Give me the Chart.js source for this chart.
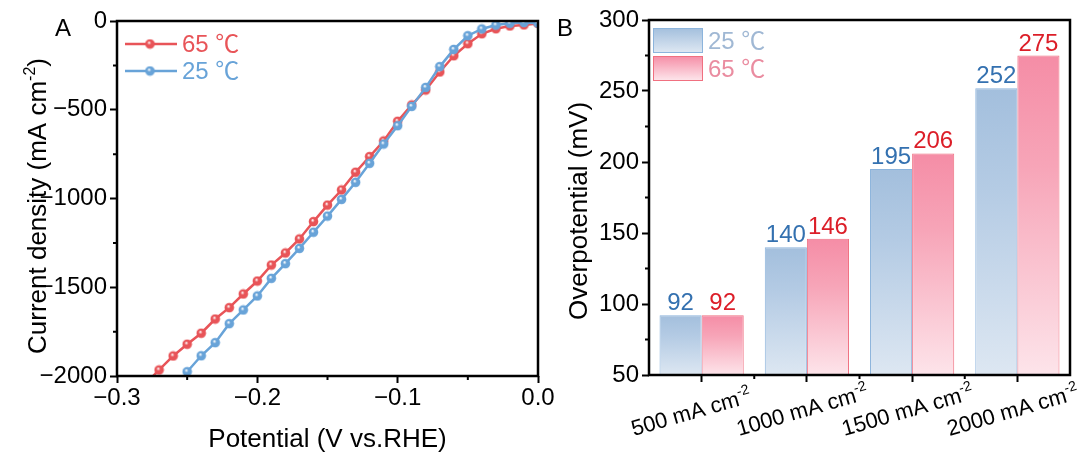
<!DOCTYPE html>
<html>
<head>
<meta charset="utf-8">
<script src="https://cdn.jsdelivr.net/npm/chart.js@4.4.1/dist/chart.umd.min.js"></script>
<style>
  html, body { margin: 0; padding: 0; background: #fff; }
  #page { position: relative; width: 1091px; height: 457px; overflow: hidden; }
  canvas { position: absolute; top: 0; }
  #chartA { left: 0; }
  #chartB { left: 545px; }
</style>
</head>
<body>
<div id="page">
  <canvas id="chartA" width="565" height="457"></canvas>
  <canvas id="chartB" width="546" height="457"></canvas>
</div>
<script>
// panel A: LSV curves (potential in V vs RHE, current density in mA cm-2)
const potential65 = [-0.28, -0.27, -0.26, -0.25, -0.24, -0.23, -0.22, -0.21, -0.20, -0.19,
  -0.18, -0.17, -0.16, -0.15, -0.14, -0.13, -0.12, -0.11, -0.10, -0.09,
  -0.08, -0.07, -0.06, -0.05, -0.04, -0.03, -0.02, -0.01, 0.00]
const current65 = [-2046, -1966, -1887, -1821, -1759, -1679, -1615, -1538, -1465, -1375,
  -1307, -1228, -1130, -1037, -952, -852, -764, -676, -565, -473,
  -389, -287, -196, -128, -72, -44, -28, -22, -14]
const potential25 = [-0.25, -0.24, -0.23, -0.22, -0.21, -0.20, -0.19, -0.18, -0.17, -0.16,
  -0.15, -0.14, -0.13, -0.12, -0.11, -0.10, -0.09, -0.08, -0.07, -0.06,
  -0.05, -0.04, -0.03, -0.02, -0.01, 0.00]
const current25 = [-1976, -1886, -1812, -1705, -1628, -1549, -1450, -1367, -1281, -1190,
  -1099, -1005, -909, -802, -693, -590, -481, -374, -257, -160,
  -83, -45, -23, -13, -9, -12]

// panel B: overpotential at each current density
const densityLabels = ['500 mA cm-2', '1000 mA cm-2', '1500 mA cm-2', '2000 mA cm-2']
const overpotential25 = [92, 140, 195, 252]
const overpotential65 = [92, 146, 206, 275]

const FAMILY = "'Liberation Sans', Arial, 'Noto Sans CJK SC', sans-serif"
const RED = 'rgb(232, 84, 88)'
const BLUE = 'rgb(104, 163, 216)'
const TICK_SIZE = 24
const TITLE_SIZE = 26

Chart.defaults.font.family = FAMILY
Chart.defaults.color = '#000'

function sphere(color) {
  const c = document.createElement('canvas')
  c.width = c.height = 11
  const g = c.getContext('2d')
  const grd = g.createRadialGradient(4.5, 4, 0.3, 5.5, 5.5, 5)
  grd.addColorStop(0, '#ffffff')
  grd.addColorStop(0.35, color)
  grd.addColorStop(1, color)
  g.fillStyle = grd
  g.beginPath()
  g.arc(5.5, 5.5, 4.8, 0, Math.PI * 2)
  g.fill()
  return c
}

// text with an optional superscript tail, e.g. [['mA cm'], ['-2', true]]
function richText(ctx, parts, x, y, angle, align, size, color) {
  ctx.save()
  ctx.translate(x, y)
  ctx.rotate(angle)
  ctx.fillStyle = color || '#000'
  ctx.textAlign = 'left'
  ctx.textBaseline = 'alphabetic'
  const fonts = parts.map(p => (p[1] ? Math.round(size * 0.62) : size) + 'px ' + FAMILY)
  let total = 0
  const widths = parts.map((p, i) => {
    ctx.font = fonts[i]
    const w = ctx.measureText(p[0]).width
    total += w
    return w
  })
  let cx = align === 'center' ? -total / 2 : 0
  parts.forEach((p, i) => {
    ctx.font = fonts[i]
    ctx.fillText(p[0], cx, p[1] ? -size * 0.42 : 0)
    cx += widths[i]
  })
  ctx.restore()
}

function splitSup(label) {
  return label.endsWith('-2') ? [[label.slice(0, -2)], ['-2', true]] : [[label]]
}

// box round the plot plus short minor ticks
const frame = {
  id: 'frame',
  afterDraw(chart, args, opts) {
    const { ctx, chartArea: a, scales } = chart
    ctx.save()
    ctx.strokeStyle = '#000'
    ctx.lineWidth = 2
    ctx.beginPath()
    ;(opts.xMinor || []).forEach(v => {
      const x = scales.x.getPixelForValue(v)
      ctx.moveTo(x, a.bottom)
      ctx.lineTo(x, a.bottom + 4)
    })
    ;(opts.yMinor || []).forEach(v => {
      const y = scales.y.getPixelForValue(v)
      ctx.moveTo(a.left, y)
      ctx.lineTo(a.left - 4, y)
    })
    ctx.stroke()
    ctx.lineWidth = 2.5
    ctx.strokeRect(a.left, a.top, a.width, a.height)
    ctx.restore()
  }
}

const tickGrid = { drawOnChartArea: false, tickLength: 7, tickWidth: 2, tickColor: '#000' }
const minus = v => (Math.abs(v) < 1e-9 ? 0 : v)

const panelA = {
  id: 'panelA',
  afterDraw(chart) {
    const ctx = chart.ctx
    const a = chart.chartArea
    ctx.save()
    ctx.font = '24px ' + FAMILY
    ctx.fillStyle = '#000'
    ctx.textAlign = 'center'
    ctx.textBaseline = 'middle'
    ctx.fillText('A', 63, 29)
    ctx.restore()
    richText(ctx, [['Potential (V vs.RHE)']], (a.left + a.right) / 2, 447, 0, 'center', TITLE_SIZE)
    richText(ctx, [['Current density (mA cm'], ['-2', true], [')']], 46, 206, -Math.PI / 2, 'center', TITLE_SIZE)

    // legend: line with marker, then label
    const order = [0, 1]
    order.forEach((di, k) => {
      const ds = chart.data.datasets[di]
      const y = 44 + k * 27
      ctx.save()
      ctx.strokeStyle = ds.borderColor
      ctx.lineWidth = 2.5
      ctx.beginPath()
      ctx.moveTo(125, y)
      ctx.lineTo(177, y)
      ctx.stroke()
      ctx.drawImage(ds.pointStyle, 150 - 5.5, y - 5.5)
      ctx.restore()
      richText(ctx, [[ds.label]], 182, y + 8, 0, 'left', 24, ds.borderColor)
    })
  }
}

new Chart(document.getElementById('chartA'), {
  type: 'line',
  data: {
    datasets: [
      {
        label: '65 ℃',
        data: potential65.map((x, i) => ({ x, y: current65[i] })),
        borderColor: RED,
        pointStyle: sphere(RED),
        order: 1
      },
      {
        label: '25 ℃',
        data: potential25.map((x, i) => ({ x, y: current25[i] })),
        borderColor: BLUE,
        pointStyle: sphere(BLUE),
        order: 0
      }
    ]
  },
  options: {
    responsive: false,
    animation: false,
    layout: { padding: { left: 0, right: 27, top: 21, bottom: 0 } },
    elements: { line: { borderWidth: 2.5, tension: 0 }, point: { radius: 5 } },
    scales: {
      x: {
        type: 'linear',
        min: -0.3,
        max: 0,
        afterFit: s => { s.height = 81 },
        ticks: {
          stepSize: 0.1,
          padding: 1,
          maxRotation: 0,
          font: { size: TICK_SIZE },
          callback: v => minus(v).toFixed(1).replace('-', '\u2212')
        },
        grid: tickGrid,
        border: { display: false }
      },
      y: {
        min: -2000,
        max: 0,
        afterFit: s => { s.width = 117 },
        ticks: {
          stepSize: 500,
          padding: 3,
          font: { size: TICK_SIZE },
          callback: v => String(minus(v)).replace('-', '\u2212')
        },
        grid: tickGrid,
        border: { display: false }
      }
    },
    plugins: {
      legend: { display: false },
      tooltip: { enabled: false },
      frame: { xMinor: [-0.25, -0.15, -0.05], yMinor: [-250, -750, -1250, -1750] }
    }
  },
  plugins: [frame, panelA]
})

// panel B
const BAR_BLUE = ['rgb(163, 191, 221)', 'rgb(180, 203, 228)', 'rgb(221, 231, 242)']
const BAR_RED = ['rgb(245, 141, 166)', 'rgb(247, 165, 184)', 'rgb(253, 228, 234)']

function barFill(c, stops) {
  const chart = c.chart
  if (!chart.chartArea || c.type !== 'data') return stops[0]
  const y = chart.scales.y
  const y0 = y.getPixelForValue(c.raw)
  const y1 = y.getPixelForValue(y.min)
  const g = chart.ctx.createLinearGradient(0, y0, 0, y1)
  g.addColorStop(0, stops[0])
  g.addColorStop(0.35, stops[1])
  g.addColorStop(1, stops[2])
  return g
}

const panelB = {
  id: 'panelB',
  afterDatasetsDraw(chart) {
    const ctx = chart.ctx
    chart.data.datasets.forEach((ds, di) => {
      const meta = chart.getDatasetMeta(di)
      ctx.save()
      ctx.font = '24px ' + FAMILY
      ctx.fillStyle = ds.valueColor
      ctx.textAlign = 'center'
      ctx.textBaseline = 'alphabetic'
      meta.data.forEach((el, i) => ctx.fillText(String(ds.data[i]), el.x, el.y - 5))
      ctx.restore()
    })
  },
  afterDraw(chart) {
    const ctx = chart.ctx
    const xs = chart.scales.x
    ctx.save()
    ctx.font = '24px ' + FAMILY
    ctx.fillStyle = '#000'
    ctx.textAlign = 'center'
    ctx.textBaseline = 'middle'
    ctx.fillText('B', 20, 29)
    ctx.restore()
    richText(ctx, [['Overpotential (mV)']], 42, 211, -Math.PI / 2, 'center', TITLE_SIZE)

    chart.data.labels.forEach((lab, i) => {
      const x = xs.getPixelForValue(i)
      richText(ctx, splitSup(lab), x - 68, 436, -16 * Math.PI / 180, 'left', 22)
    })

    // legend with gradient swatches
    chart.data.datasets.forEach((ds, k) => {
      const top = 28 + k * 28
      const g = ctx.createLinearGradient(0, top, 0, top + 24)
      g.addColorStop(0, ds.stops[0])
      g.addColorStop(1, ds.stops[2])
      ctx.save()
      ctx.fillStyle = g
      ctx.fillRect(108, top, 49, 24)
      ctx.strokeStyle = ds.borderColor
      ctx.lineWidth = 1
      ctx.strokeRect(108.5, top + 0.5, 49, 24)
      ctx.restore()
      richText(ctx, [[ds.label]], 163, top + 21, 0, 'left', 24, ds.legendColor)
    })
  }
}

new Chart(document.getElementById('chartB'), {
  type: 'bar',
  data: {
    labels: densityLabels,
    datasets: [
      {
        label: '25 ℃',
        data: overpotential25,
        stops: BAR_BLUE,
        backgroundColor: c => barFill(c, BAR_BLUE),
        borderColor: 'rgb(140, 180, 220)',
        valueColor: 'rgb(52, 113, 176)',
        legendColor: 'rgb(160, 184, 212)'
      },
      {
        label: '65 ℃',
        data: overpotential65,
        stops: BAR_RED,
        backgroundColor: c => barFill(c, BAR_RED),
        borderColor: 'rgb(240, 112, 128)',
        valueColor: 'rgb(220, 30, 40)',
        legendColor: 'rgb(234, 140, 160)'
      }
    ]
  },
  options: {
    responsive: false,
    animation: false,
    layout: { padding: { left: 0, right: 21, top: 20, bottom: 0 } },
    datasets: { bar: { categoryPercentage: 0.8, barPercentage: 1, borderWidth: 1 } },
    scales: {
      x: {
        afterFit: s => { s.height = 82 },
        ticks: { display: false },
        grid: Object.assign({ offset: false }, tickGrid),
        border: { display: false }
      },
      y: {
        min: 50,
        max: 300,
        afterFit: s => { s.width = 104 },
        ticks: { stepSize: 50, padding: 3, font: { size: TICK_SIZE } },
        grid: tickGrid,
        border: { display: false }
      }
    },
    plugins: {
      legend: { display: false },
      tooltip: { enabled: false },
      frame: { xMinor: [0.5, 1.5, 2.5], yMinor: [75, 125, 175, 225, 275] }
    }
  },
  plugins: [frame, panelB]
})
</script>
</body>
</html>
